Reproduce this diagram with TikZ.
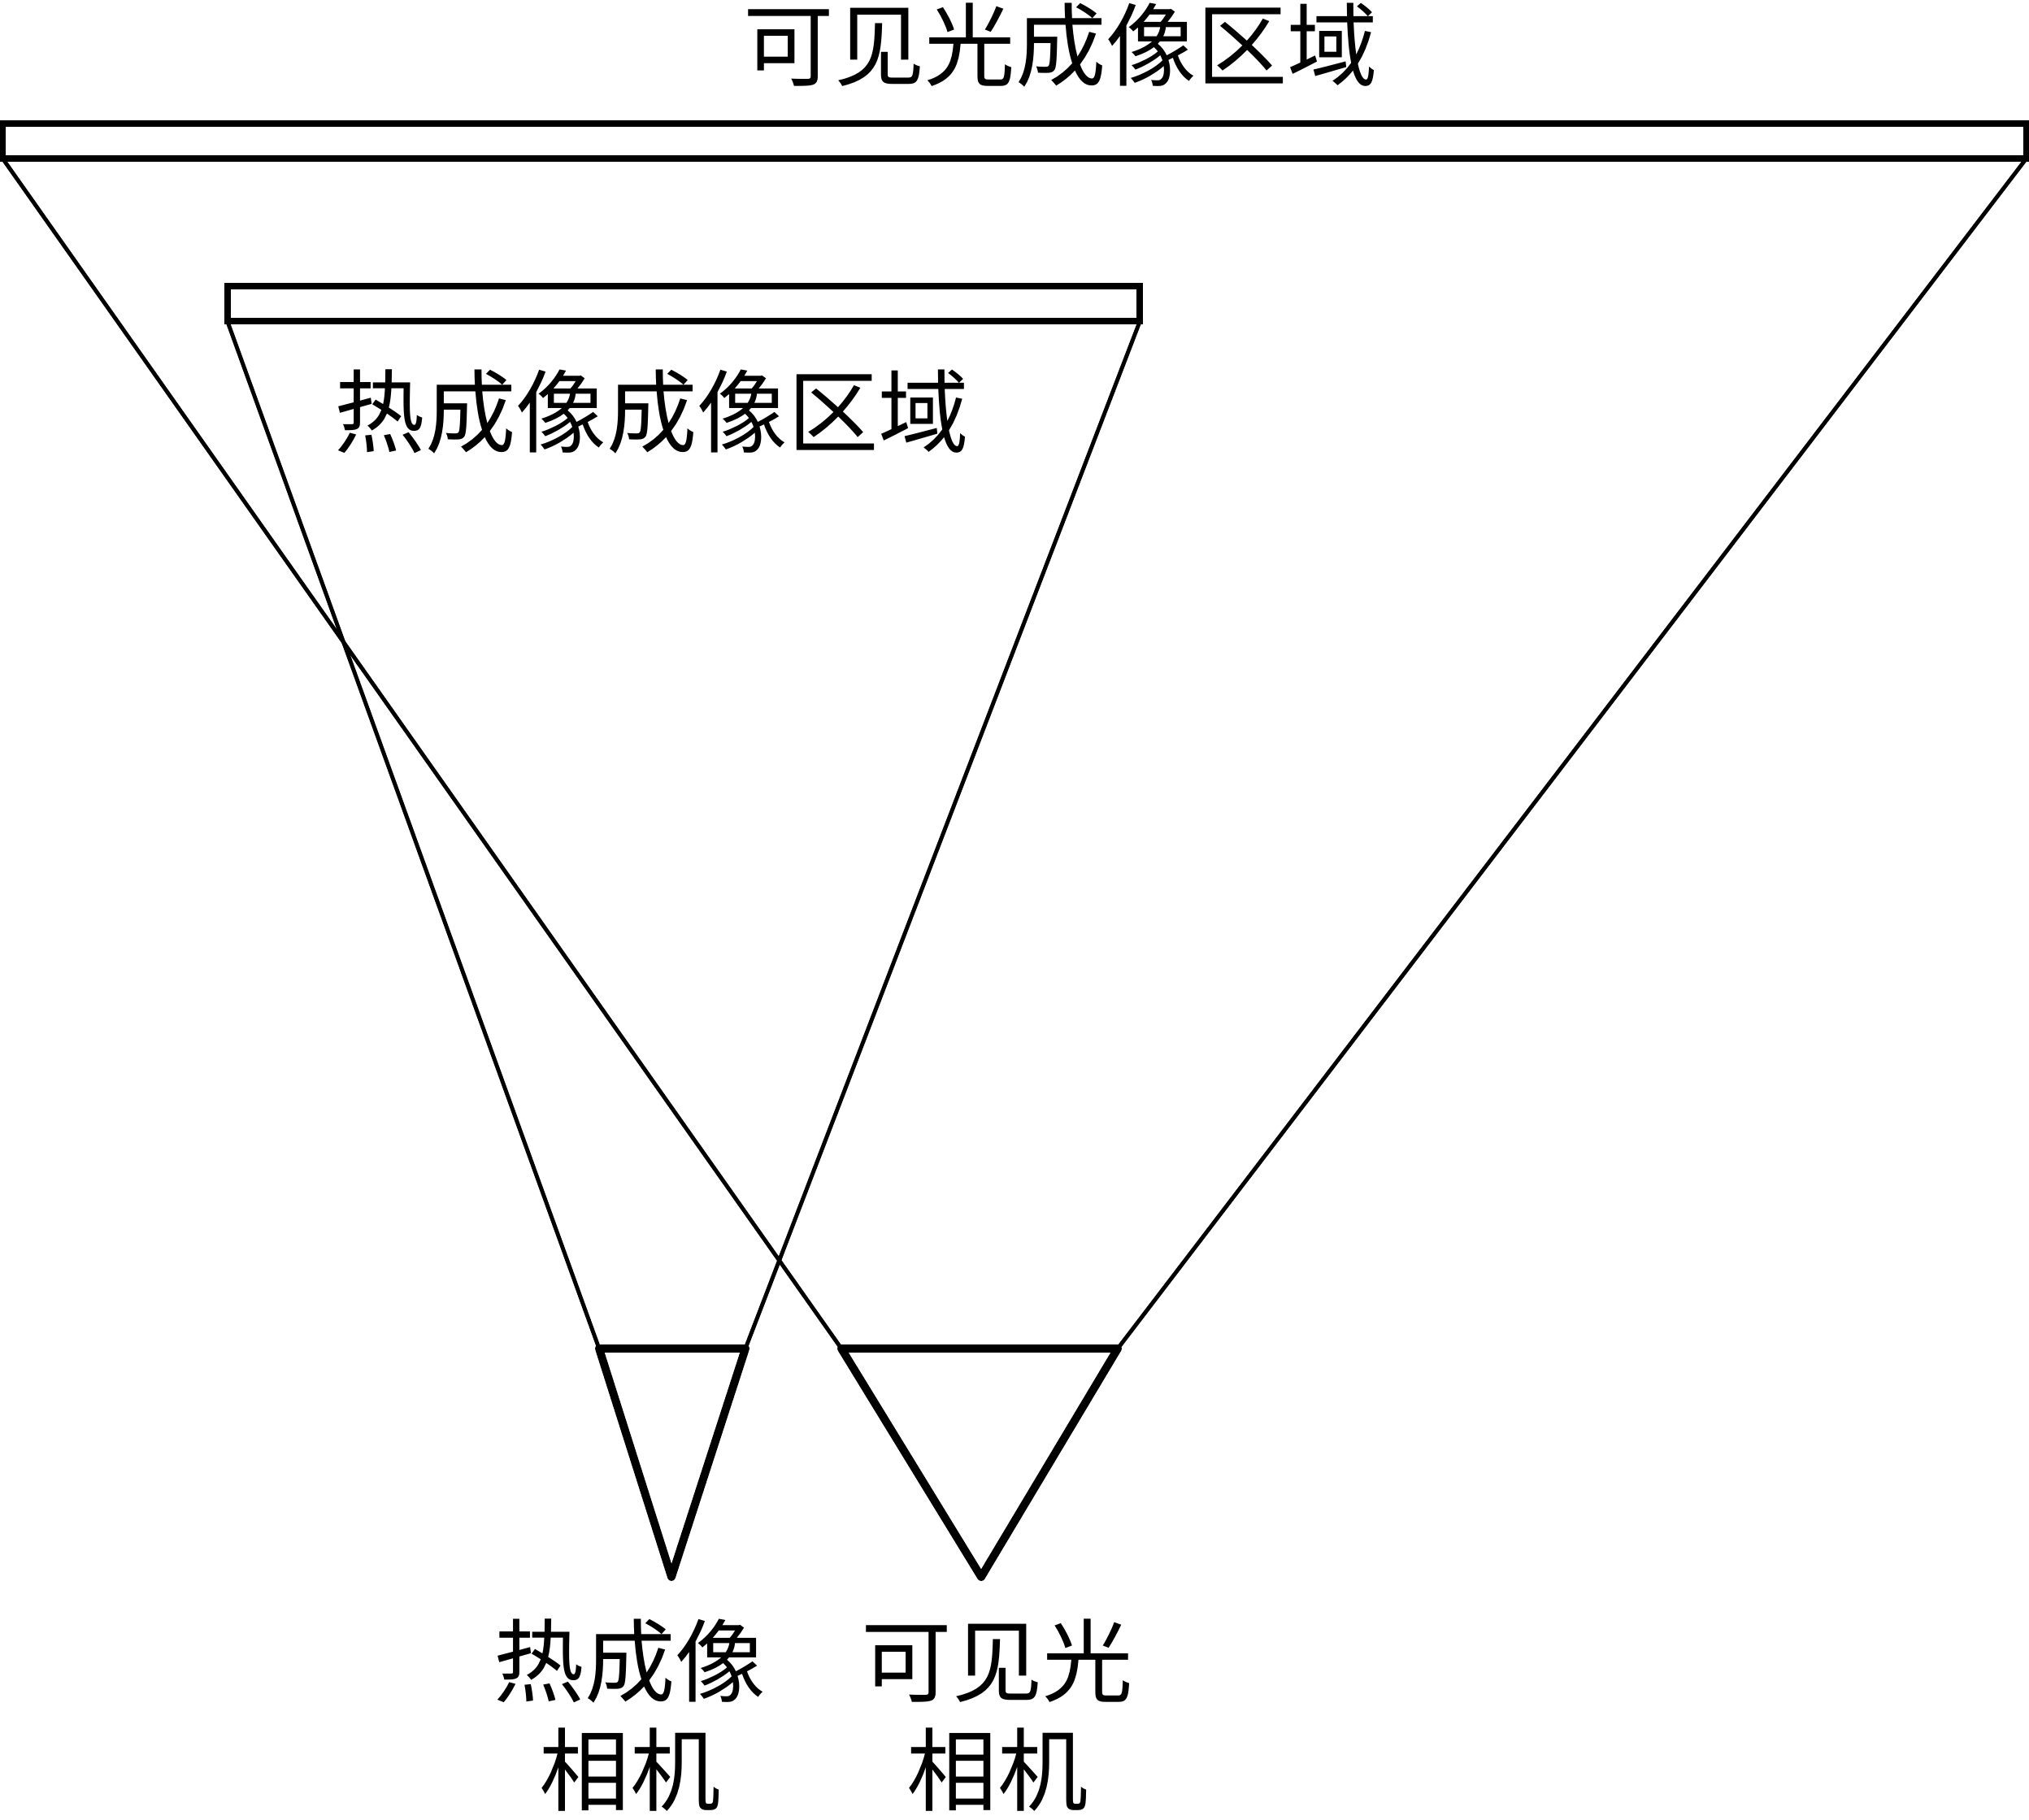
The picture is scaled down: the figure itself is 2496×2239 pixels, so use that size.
\documentclass[tikz,border=0pt]{standalone}
\usepackage{fontspec}
\newfontfamily\cjk{Noto Sans CJK SC}
\usetikzlibrary{positioning}

\begin{document}
\begin{tikzpicture}[x=0.01cm,y=-0.01cm,
    bar/.style={draw,line width=2.3pt,inner sep=0pt,outer sep=0pt,minimum height=0.43cm},
    ray/.style={line width=1.4pt},
    lens/.style={line width=2.8pt,line join=round},
    lbl/.style={font=\cjk\fontsize{31.7}{38.2}\selectfont,inner sep=0pt,align=center}]
  \useasboundingbox (0,0) rectangle (2496,2239);
  % imaging areas
  \node[bar,minimum width=24.88cm] (visarea) at (1248,173.5) {};
  \node[bar,minimum width=11.22cm] (irarea) at (841,373.5) {};
  % cameras
  \coordinate (irL) at (737,1659);
  \coordinate (irR) at (917,1659);
  \coordinate (irT) at (826,1940);
  \coordinate (visL) at (1035,1659);
  \coordinate (visR) at (1375,1659);
  \coordinate (visT) at (1207,1940);
  \draw[lens] (irL) -- (irR) -- (irT) -- cycle;
  \draw[lens] (visL) -- (visR) -- (visT) -- cycle;
  % fields of view
  \draw[ray] (visarea.south west) -- (visL);
  \draw[ray] (visarea.south east) -- (visR);
  \draw[ray] (irarea.south west) -- (irL);
  \draw[ray] (irarea.south east) -- (irR);
  % labels
  \node[lbl] (vistitle) at (1305,56) {可见光成像区域};
  \node[lbl] (irtitle) at (802,506) {热成像成像区域};
  \node[lbl] (ircam) at (775,2110) {热成像\\相机};
  \node[lbl] (viscam) at (1227,2110) {可见光\\相机};
\end{tikzpicture}
\end{document}
